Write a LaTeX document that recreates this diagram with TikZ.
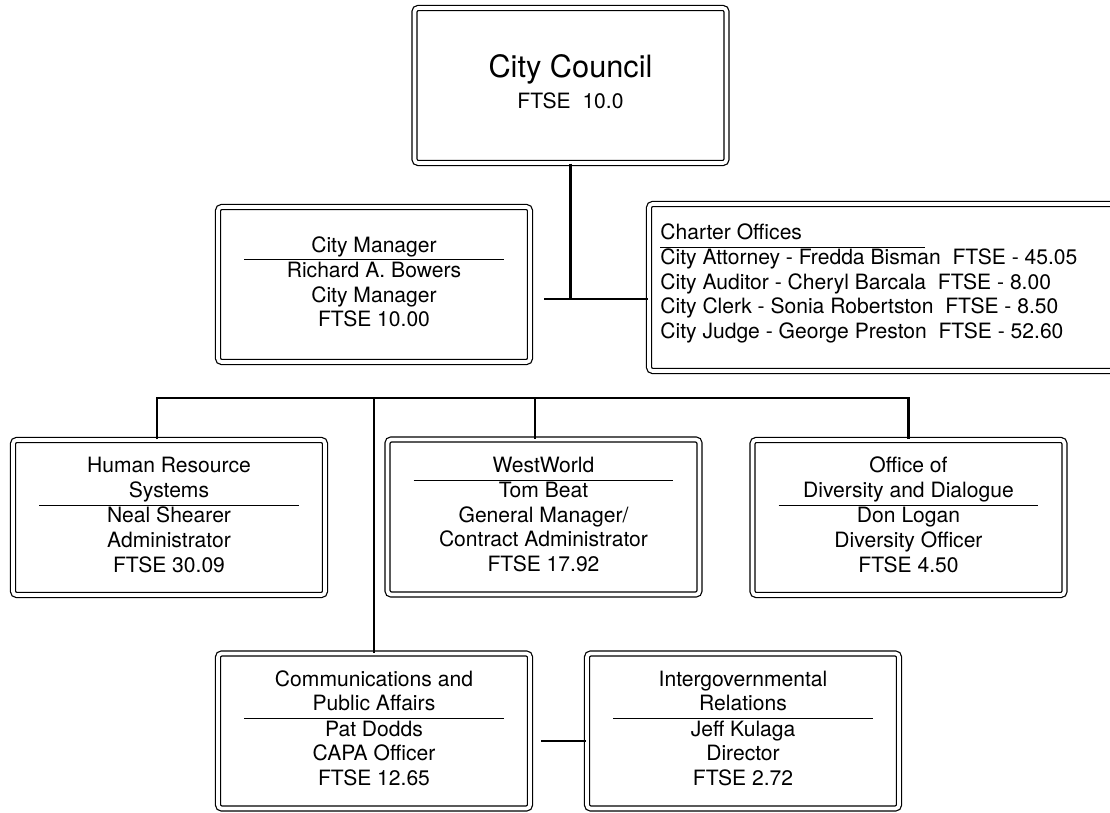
\documentclass[tikz,border=0pt]{standalone}
\usepackage{fontspec}
\setmainfont{TeX Gyre Heros}
\usepackage{array}
\setlength{\arrayrulewidth}{0.5pt}
\newcommand{\orgtab}[2]{\begin{tabular}{@{}>{\centering\arraybackslash}p{5.2cm}@{}}#1\\ \hline #2\end{tabular}}
\begin{document}
\begin{tikzpicture}[x=0.02cm, y=-0.02cm,
  orgbox/.style={draw, double, line width=.7pt, double distance=2.1pt, rounded corners=2pt,
    minimum width=6.24cm, minimum height=3.1cm, inner sep=0pt, font=\fontsize{12}{14}\selectfont},
  link/.style={line width=1.2pt}]
\useasboundingbox (0,0) rectangle (1110,813);
\clip (0,0) rectangle (1110,813);
% top
\node[orgbox] (council) at (570.5,85.5) {\begin{tabular}{c}{\fontsize{17.5}{21}\selectfont City Council}\\[3.6pt] FTSE\ \ 10.0\end{tabular}};
\node[orgbox] (mgr) at (374,284.5) {\orgtab{City Manager}{Richard A. Bowers\\City Manager\\FTSE 10.00}};
\node[orgbox, minimum width=10cm, minimum height=3.34cm] (charter) at (899,287.5) {};
\node[anchor=base west, inner sep=0pt, font=\fontsize{12}{14}\selectfont] (chartext) at (660,240) {\begin{tabular}[t]{@{}p{5.3cm}@{}l@{}}
Charter Offices & \\ \cline{1-1}
\multicolumn{2}{@{}l@{}}{City Attorney - Fredda Bisman\ \ FTSE - 45.05}\\
\multicolumn{2}{@{}l@{}}{City Auditor - Cheryl Barcala\ \ FTSE - 8.00}\\
\multicolumn{2}{@{}l@{}}{City Clerk - Sonia Robertston\ \ FTSE - 8.50}\\
\multicolumn{2}{@{}l@{}}{City Judge - George Preston\ \ FTSE - 52.60}
\end{tabular}};
% departments
\node[orgbox] (hr) at (169,517.5) {\orgtab{Human Resource\\Systems}{Neal Shearer\\Administrator\\FTSE 30.09}};
\node[orgbox] (ww) at (543.5,517) {\orgtab{WestWorld}{Tom Beat\\General Manager/\\Contract Administrator\\FTSE 17.92}};
\node[orgbox] (office) at (908.5,517.5) {\orgtab{Office of\\Diversity and Dialogue}{Don Logan\\Diversity Officer\\FTSE 4.50}};
\node[orgbox] (comm) at (374,731) {\orgtab{Communications and\\Public Affairs}{Pat Dodds\\CAPA Officer\\FTSE 12.65}};
\node[orgbox] (ig) at (743,731) {\orgtab{Intergovernmental\\Relations}{Jeff Kulaga\\Director\\FTSE 2.72}};
% connectors
\coordinate (mjoin) at (544,299);
\coordinate (busl) at (157,398);
\coordinate (wwdrop) at (535,398);
\coordinate (cjoin) at (541,741);
\draw[link, line width=1.8pt] (council.south) -- (council.south |- mjoin);
\draw[link] (mjoin) -- (mjoin -| charter.west);
\draw[link] (busl |- hr.north) -- (busl) -- (busl -| office.north) -- (office.north);
\draw[link] (wwdrop) -- (wwdrop |- ww.north);
\draw[link] (comm.north |- busl) -- (comm.north);
\draw[link] (cjoin) -- (cjoin -| ig.west);
\end{tikzpicture}
\end{document}
